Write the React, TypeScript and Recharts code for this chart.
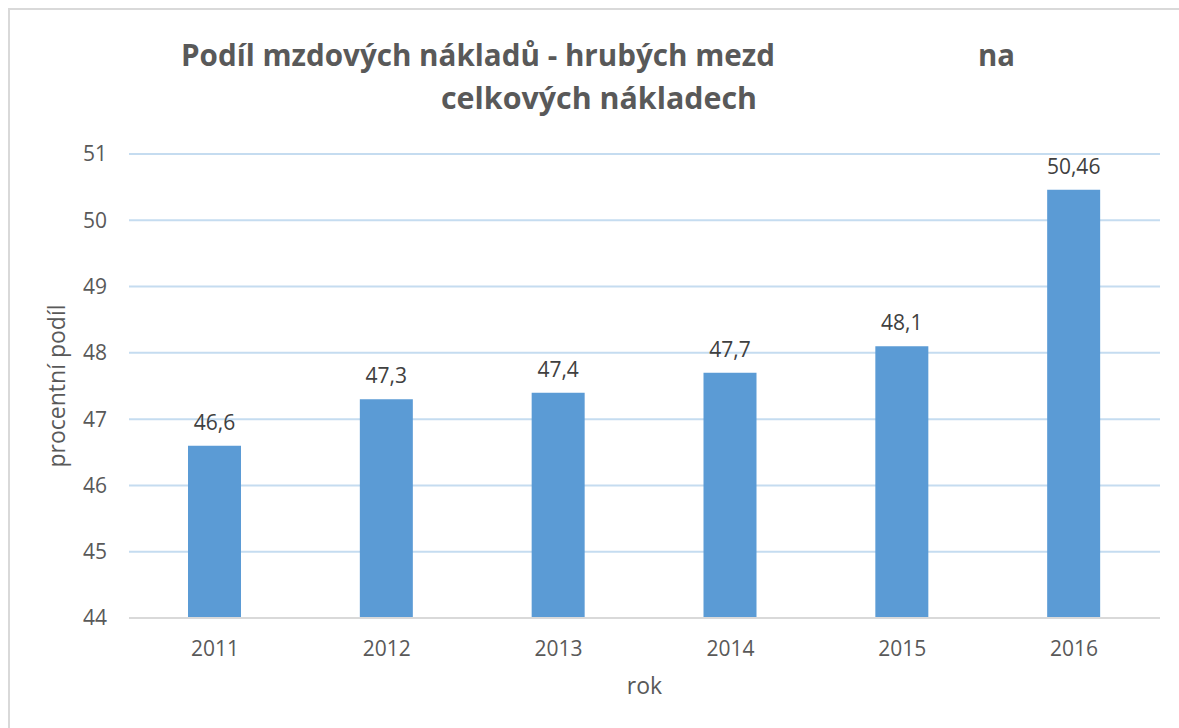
import React from 'react';
import { BarChart, Bar, XAxis, YAxis, CartesianGrid, LabelList, Label } from 'recharts';

const years = ['2011', '2012', '2013', '2014', '2015', '2016'];
const shares = [46.6, 47.3, 47.4, 47.7, 48.1, 50.46];
const yTicks = [44, 45, 46, 47, 48, 49, 50, 51];
const titleLine1a = 'Podíl mzdových nákladů - hrubých mezd';
const titleLine1b = 'na';
const titleLine2 = 'celkových nákladech';
const yLabel = 'procentní podíl';
const xLabel = 'rok';

const data = years.map((y, i) => ({ year: y, value: shares[i] }));

const FONT = '"Open Sans", sans-serif';
const fmt = (v: any) => String(v).replace('.', ',');

export default function App() {
  return (
    <div style={{ position: 'absolute', left: 0, top: 0, width: 1179, height: 728, overflow: 'hidden', background: '#fff', fontFamily: FONT }}>
      <div style={{ position: 'absolute', left: 8, top: 8, width: 1250, height: 800, border: '2px solid #d9d9d9' }} />
      <svg style={{ position: 'absolute', left: 0, top: 0 }} width={1179} height={728}>
        <text x={181} y={66} fontFamily={FONT} fontWeight={700} fontSize={31} fill="#595959" textLength={594} lengthAdjust="spacingAndGlyphs">{titleLine1a}</text>
        <text x={978} y={66} fontFamily={FONT} fontWeight={700} fontSize={31} fill="#595959" textLength={37} lengthAdjust="spacingAndGlyphs">{titleLine1b}</text>
        <text x={441} y={109} fontFamily={FONT} fontWeight={700} fontSize={31} fill="#595959" textLength={316} lengthAdjust="spacingAndGlyphs">{titleLine2}</text>
      </svg>
      <div style={{ position: 'absolute', left: 0, top: 0 }}>
        <BarChart width={1179} height={728} data={data} margin={{ top: 154, right: 19, bottom: 0, left: 0 }}>
          <CartesianGrid vertical={false} stroke="#c5dcf0" strokeWidth={2} />
          <XAxis dataKey="year" tickLine={false} tickSize={0} tickMargin={23} axisLine={{ stroke: '#d9d9d9', strokeWidth: 2 }} tick={{ fill: '#595959', fontSize: 21, fontFamily: FONT }} height={110}>
            <Label value={xLabel} position="insideTop" offset={60} style={{ fill: '#595959', fontSize: 23, fontFamily: FONT }} />
          </XAxis>
          <YAxis width={129} domain={[44, 51]} ticks={yTicks} interval={0} axisLine={false} tickLine={false} tickSize={0} tickMargin={22} tick={{ fill: '#595959', fontSize: 21, fontFamily: FONT }}>
            <Label value={yLabel} angle={-90} position="insideLeft" offset={57} style={{ textAnchor: 'middle', fill: '#595959', fontSize: 23, fontFamily: FONT }} />
          </YAxis>
          <Bar dataKey="value" fill="#5b9bd5" barSize={53} isAnimationActive={false}>
            <LabelList dataKey="value" position="top" offset={16} formatter={fmt} style={{ fill: '#404040', fontSize: 21, fontFamily: FONT }} />
          </Bar>
        </BarChart>
      </div>
    </div>
  );
}
